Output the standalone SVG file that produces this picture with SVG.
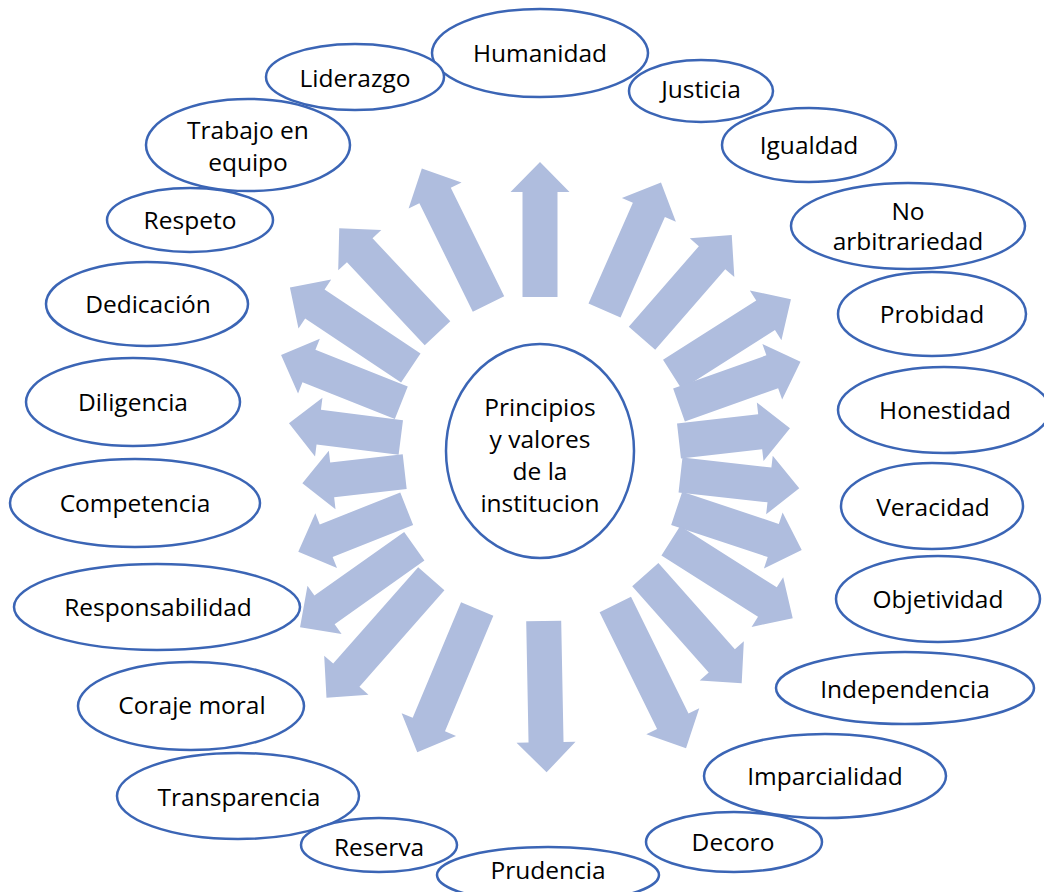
<svg xmlns="http://www.w3.org/2000/svg" width="1044" height="892" viewBox="0 0 1044 892">
  <style>
    .arrow { fill: #AFBDDE; }
    .node ellipse { fill: #FFFFFF; stroke: #3B65B5; stroke-width: 2.5; }
    .node text { font-family: "Open Sans", "Noto Sans", sans-serif; font-size: 24.5px; fill: #000000; text-anchor: middle; }
  </style>

  <!-- Block arrows radiating from the central circle; local frame: tail at origin, pointing along +x -->
  <g id="connectors">
    <polygon class="arrow" transform="translate(540,297) rotate(-90)" points="0,-17.5 105,-17.5 105,-29.5 135,0 105,29.5 105,17.5 0,17.5"/>
    <polygon class="arrow" transform="translate(488.5,304) rotate(-116.2)" points="0,-17.5 121,-17.5 121,-29.5 151,0 121,29.5 121,17.5 0,17.5"/>
    <polygon class="arrow" transform="translate(604.5,310.5) rotate(-66.2)" points="0,-17.5 110,-17.5 110,-29.5 140,0 110,29.5 110,17.5 0,17.5"/>
    <polygon class="arrow" transform="translate(642,338.3) rotate(-49)" points="0,-17.5 106.8,-17.5 106.8,-29.5 136.8,0 106.8,29.5 106.8,17.5 0,17.5"/>
    <polygon class="arrow" transform="translate(672.4,374.5) rotate(-32.4)" points="0,-17.5 110.4,-17.5 110.4,-29.5 140.4,0 110.4,29.5 110.4,17.5 0,17.5"/>
    <polygon class="arrow" transform="translate(679,405) rotate(-19.6)" points="0,-17.5 99,-17.5 99,-29.5 129,0 99,29.5 99,17.5 0,17.5"/>
    <polygon class="arrow" transform="translate(679,441) rotate(-6.5)" points="0,-17.5 81.7,-17.5 81.7,-29.5 111.7,0 81.7,29.5 81.7,17.5 0,17.5"/>
    <polygon class="arrow" transform="translate(680.5,475) rotate(6.4)" points="0,-17.5 89.5,-17.5 89.5,-29.5 119.5,0 89.5,29.5 89.5,17.5 0,17.5"/>
    <polygon class="arrow" transform="translate(676.7,508.3) rotate(18.45)" points="0,-17.5 101.8,-17.5 101.8,-29.5 131.8,0 101.8,29.5 101.8,17.5 0,17.5"/>
    <polygon class="arrow" transform="translate(670.8,540.8) rotate(32.4)" points="0,-17.5 114.4,-17.5 114.4,-29.5 144.4,0 114.4,29.5 114.4,17.5 0,17.5"/>
    <polygon class="arrow" transform="translate(645.3,574.7) rotate(48.4)" points="0,-17.5 115.2,-17.5 115.2,-29.5 145.2,0 115.2,29.5 115.2,17.5 0,17.5"/>
    <polygon class="arrow" transform="translate(615.3,604.5) rotate(63.8)" points="0,-17.5 130.2,-17.5 130.2,-29.5 160.2,0 130.2,29.5 130.2,17.5 0,17.5"/>
    <polygon class="arrow" transform="translate(543.7,621) rotate(88.9)" points="0,-17.5 121.3,-17.5 121.3,-29.5 151.3,0 121.3,29.5 121.3,17.5 0,17.5"/>
    <polygon class="arrow" transform="translate(477.2,609) rotate(112.7)" points="0,-17.5 125.3,-17.5 125.3,-29.5 155.3,0 125.3,29.5 125.3,17.5 0,17.5"/>
    <polygon class="arrow" transform="translate(431.3,578.8) rotate(131.4)" points="0,-17.5 128.5,-17.5 128.5,-29.5 158.5,0 128.5,29.5 128.5,17.5 0,17.5"/>
    <polygon class="arrow" transform="translate(414.3,546.3) rotate(144.7)" points="0,-17.5 110,-17.5 110,-29.5 140,0 110,29.5 110,17.5 0,17.5"/>
    <polygon class="arrow" transform="translate(406.7,508.8) rotate(158.4)" points="0,-17.5 86.6,-17.5 86.6,-29.5 116.6,0 86.6,29.5 86.6,17.5 0,17.5"/>
    <polygon class="arrow" transform="translate(404.7,471.7) rotate(173.5)" points="0,-17.5 73,-17.5 73,-29.5 103,0 73,29.5 73,17.5 0,17.5"/>
    <polygon class="arrow" transform="translate(400.8,437.5) rotate(-172.8)" points="0,-17.5 82.7,-17.5 82.7,-29.5 112.7,0 82.7,29.5 82.7,17.5 0,17.5"/>
    <polygon class="arrow" transform="translate(401.3,402.8) rotate(-158.3)" points="0,-17.5 99.4,-17.5 99.4,-29.5 129.4,0 99.4,29.5 99.4,17.5 0,17.5"/>
    <polygon class="arrow" transform="translate(410.8,368) rotate(-146.3)" points="0,-17.5 115.3,-17.5 115.3,-29.5 145.3,0 115.3,29.5 115.3,17.5 0,17.5"/>
    <polygon class="arrow" transform="translate(437.5,333.3) rotate(-133.1)" points="0,-17.5 113.8,-17.5 113.8,-29.5 143.8,0 113.8,29.5 113.8,17.5 0,17.5"/>
  </g>

  <!-- Central node -->
  <g id="center" class="node">
    <ellipse cx="540" cy="451" rx="94" ry="107"/>
    <text x="540" y="416">Principios</text>
    <text x="540" y="448">y valores</text>
    <text x="540" y="480">de la</text>
    <text x="540" y="512">institucion</text>
  </g>

  <!-- Surrounding value nodes (later ones overlap earlier ones where they touch) -->
  <g id="humanidad" class="node"><ellipse cx="540" cy="53" rx="108" ry="44"/><text x="540" y="62">Humanidad</text></g>
  <g id="liderazgo" class="node"><ellipse cx="355" cy="77" rx="89" ry="33"/><text x="355" y="87">Liderazgo</text></g>
  <g id="justicia" class="node"><ellipse cx="701" cy="91" rx="72" ry="31"/><text x="701" y="98">Justicia</text></g>
  <g id="igualdad" class="node"><ellipse cx="809" cy="145" rx="87" ry="37"/><text x="809" y="154">Igualdad</text></g>
  <g id="no-arbitrariedad" class="node"><ellipse cx="908" cy="226" rx="117" ry="43"/><text x="908" y="220">No</text><text x="908" y="250">arbitrariedad</text></g>
  <g id="probidad" class="node"><ellipse cx="932" cy="314" rx="94" ry="42"/><text x="932" y="323">Probidad</text></g>
  <g id="honestidad" class="node"><ellipse cx="944" cy="410" rx="106" ry="43"/><text x="945" y="419">Honestidad</text></g>
  <g id="veracidad" class="node"><ellipse cx="932" cy="506" rx="91" ry="43"/><text x="933" y="516">Veracidad</text></g>
  <g id="objetividad" class="node"><ellipse cx="938" cy="599" rx="102" ry="43"/><text x="938" y="608">Objetividad</text></g>
  <g id="independencia" class="node"><ellipse cx="905" cy="688" rx="129" ry="36"/><text x="905" y="698">Independencia</text></g>
  <g id="imparcialidad" class="node"><ellipse cx="825" cy="776" rx="121" ry="42"/><text x="825" y="785">Imparcialidad</text></g>
  <g id="decoro" class="node"><ellipse cx="734" cy="842" rx="88" ry="30"/><text x="733" y="851">Decoro</text></g>
  <g id="prudencia" class="node"><ellipse cx="548" cy="875" rx="111" ry="28"/><text x="548" y="879">Prudencia</text></g>
  <g id="transparencia" class="node"><ellipse cx="238" cy="796" rx="121" ry="43"/><text x="239" y="806">Transparencia</text></g>
  <g id="reserva" class="node"><ellipse cx="379" cy="845" rx="78" ry="27"/><text x="379" y="856">Reserva</text></g>
  <g id="coraje-moral" class="node"><ellipse cx="191" cy="706" rx="113" ry="44"/><text x="192" y="714">Coraje moral</text></g>
  <g id="responsabilidad" class="node"><ellipse cx="157" cy="607" rx="143" ry="43"/><text x="158" y="616">Responsabilidad</text></g>
  <g id="competencia" class="node"><ellipse cx="135" cy="503" rx="125" ry="44"/><text x="135" y="512">Competencia</text></g>
  <g id="diligencia" class="node"><ellipse cx="133" cy="402" rx="107" ry="44"/><text x="133" y="411">Diligencia</text></g>
  <g id="dedicacion" class="node"><ellipse cx="147" cy="304" rx="101" ry="42"/><text x="148" y="313">Dedicación</text></g>
  <g id="respeto" class="node"><ellipse cx="190" cy="220" rx="83" ry="32"/><text x="190" y="229">Respeto</text></g>
  <g id="trabajo-en-equipo" class="node"><ellipse cx="248" cy="145" rx="102" ry="46"/><text x="248" y="139">Trabajo en</text><text x="248" y="171">equipo</text></g>
</svg>
